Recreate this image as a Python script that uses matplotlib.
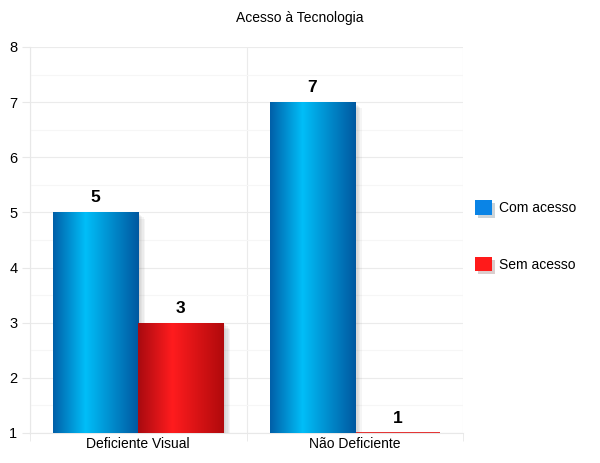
import numpy as np
import matplotlib.pyplot as plt
from matplotlib import patheffects as pe
from matplotlib.colors import LinearSegmentedColormap
from matplotlib.patches import Patch

plt.rcParams['font.family'] = ['Liberation Sans', 'DejaVu Sans']

# dados
categorias = ['Deficiente Visual', 'Não Deficiente']
series = ['Com acesso', 'Sem acesso']
com_acesso = [5, 7]
sem_acesso = [3, 1]
base = 1

cores_leg = ['#0A84E6', '#FF1A1A']
grad_azul = LinearSegmentedColormap.from_list(
    'az', [(0, '#005FA8'), (0.38, '#00BEF8'), (1, '#0058A0')])
grad_verm = LinearSegmentedColormap.from_list(
    'vm', [(0, '#A80A10'), (0.4, '#FF1C1E'), (1, '#B00A0C')])

fig = plt.figure(figsize=(6, 4.63), dpi=100)
ax = fig.add_axes([0.05, 0.0648, 0.7217, 0.8337])

x = np.arange(len(categorias))
w = 0.393
sombra = [pe.SimplePatchShadow(offset=(i, -i * 0.9), shadow_rgbFace='#808080', alpha=0.08)
          for i in range(1, 6)] + [pe.Normal()]

grad = np.linspace(0, 1, 256).reshape(1, -1)
for vals, off, cmap, cor in [(com_acesso, -w / 2, grad_azul, cores_leg[0]),
                             (sem_acesso, w / 2, grad_verm, '#E01010')]:
    alt = [v - base for v in vals]
    bars = ax.bar(x + off, alt, w, bottom=base, color=cor, linewidth=0, zorder=3)
    for b, v in zip(bars, vals):
        if b.get_height() > 0:
            b.set_path_effects(sombra)
            im = ax.imshow(grad, cmap=cmap, aspect='auto', zorder=4,
                           extent=[b.get_x(), b.get_x() + b.get_width(), b.get_y(), b.get_y() + b.get_height()])
            im.set_clip_path(b)
        else:
            b.set_edgecolor(cor)
            b.set_linewidth(1.2)
        ax.annotate(str(v), (b.get_x() + b.get_width() / 2, b.get_y() + b.get_height()),
                    xytext=(0, 5), textcoords='offset points', ha='center', va='bottom',
                    fontsize=12.5, fontweight='bold', zorder=5)

ax.set_xlim(-0.5, 1.5)
ax.set_ylim(1, 8)
ax.set_yticks(range(1, 9))
ax.set_yticks(np.arange(1.5, 8, 1), minor=True)
ax.set_xticks(x)
ax.set_xticklabels(categorias, fontsize=10)
ax.set_xticks([-0.5, 0.5, 1.5], minor=True)
ax.tick_params(axis='x', which='major', length=0, pad=3)
ax.tick_params(axis='x', which='minor', length=6, color='#E8E8E8')
ax.tick_params(axis='y', which='major', length=6, color='#E8E8E8', labelsize=10.5, pad=3)
ax.tick_params(axis='y', which='minor', length=0)
ax.grid(axis='y', which='major', color='#EBEBEB', lw=0.8, zorder=0)
ax.grid(axis='y', which='minor', color='#F6F6F6', lw=0.8, zorder=0)
ax.grid(axis='x', which='minor', color='#EBEBEB', lw=0.8, zorder=0)
for s in ax.spines.values():
    s.set_visible(False)
ax.spines['left'].set_visible(True)
ax.spines['left'].set_color('#E8E8E8')
ax.spines['bottom'].set_visible(True)
ax.spines['bottom'].set_color('#E8E8E8')

fig.text(0.5, 0.961, 'Acesso à Tecnologia', ha='center', va='center', fontsize=10)

handles = [Patch(facecolor=c, edgecolor='none') for c in cores_leg]
leg = fig.legend(handles, series, loc='center left', bbox_to_anchor=(0.771, 0.490),
                 frameon=False, fontsize=10, handlelength=1.2, handleheight=1.2,
                 handletextpad=0.55, labelspacing=3.0)
for p in leg.get_patches():
    p.set_path_effects([pe.SimplePatchShadow(offset=(2, -2), alpha=0.2), pe.Normal()])

fig.savefig('out.png', dpi=100)
